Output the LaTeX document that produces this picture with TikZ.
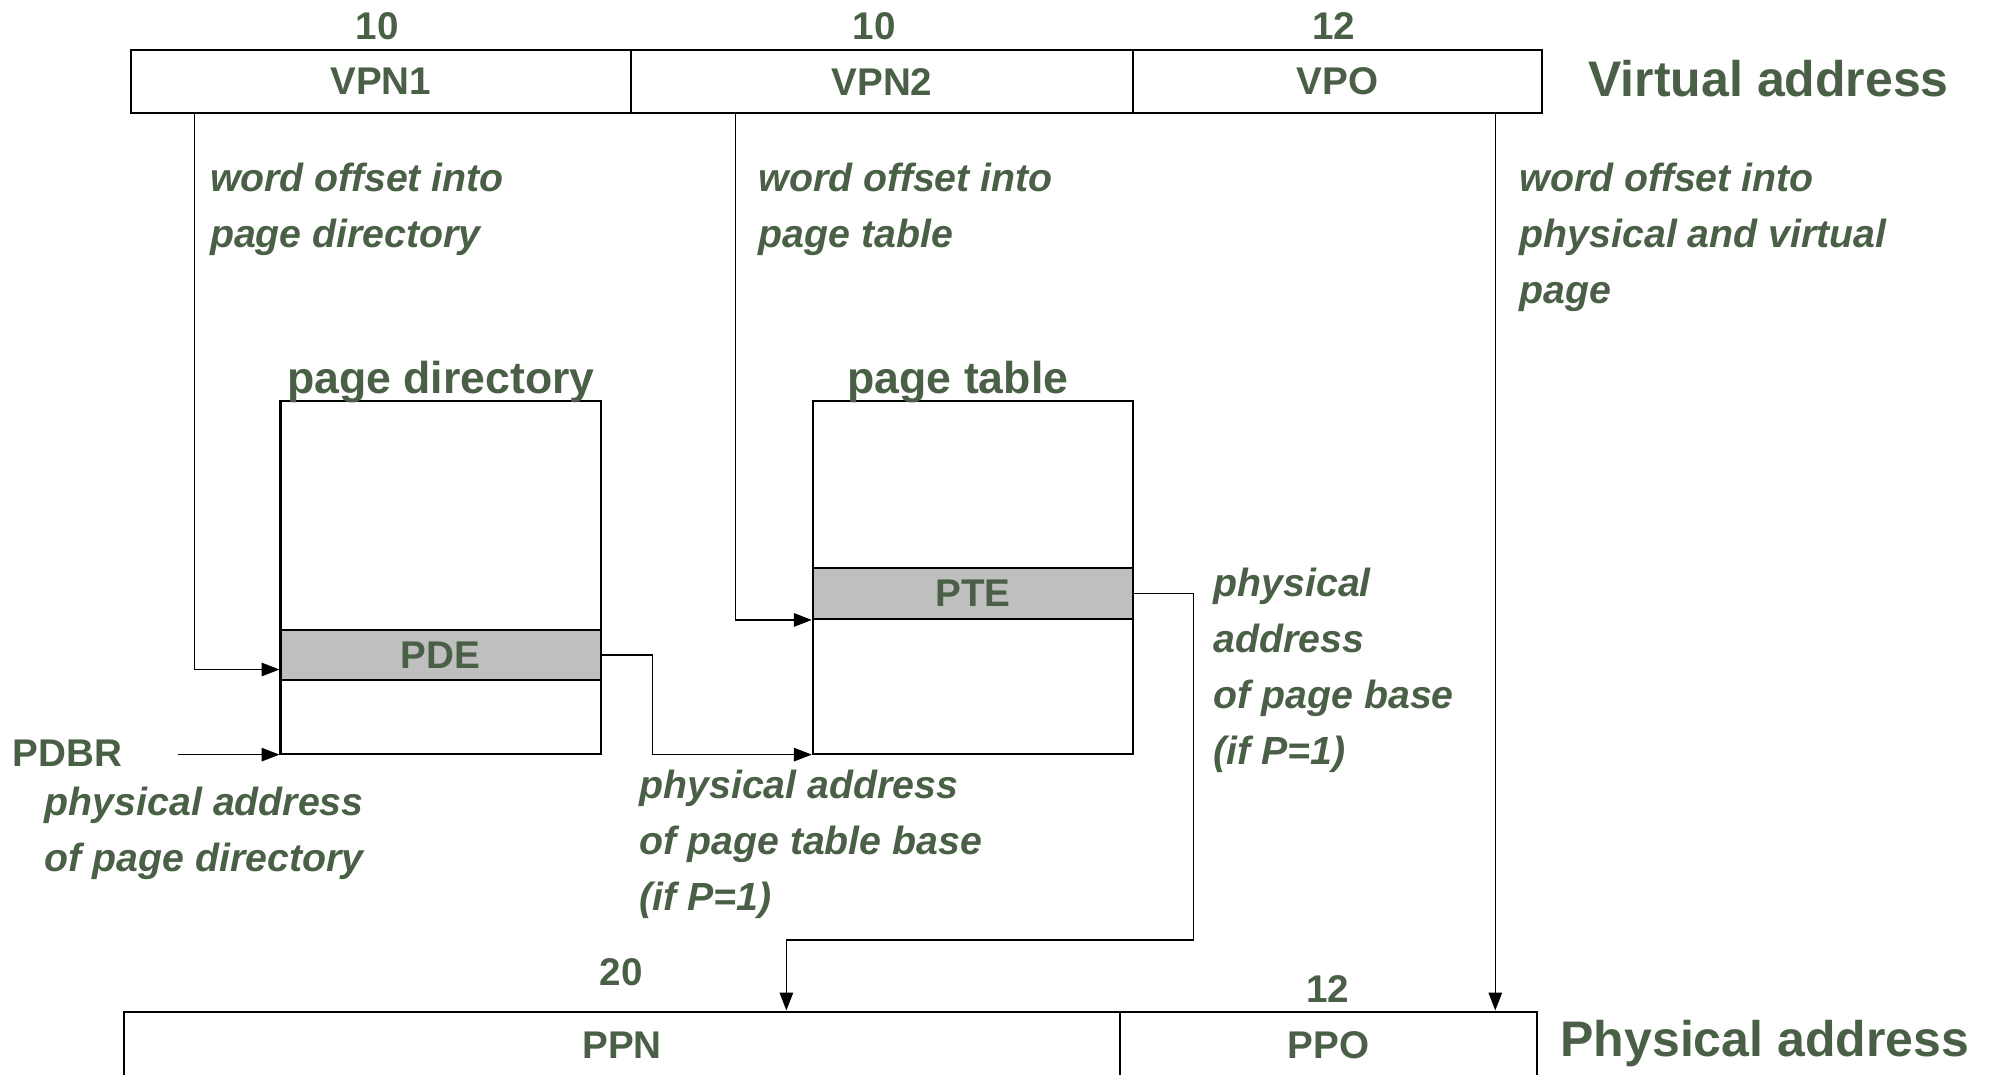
\documentclass[tikz,border=0pt]{standalone}
\usepackage{fontspec}
\setmainfont{Liberation Sans}
\usetikzlibrary{arrows.meta}
\definecolor{labelgreen}{RGB}{74,96,70}
\tikzset{
  fieldbox/.style={draw, line width=0.9pt, anchor=south west, minimum height=1cm, inner sep=0, font=\bfseries\fontsize{17.3}{20}\selectfont, text=labelgreen},
  entrybox/.style={fieldbox, fill=gray!50, minimum width=5.04cm},
  tablebox/.style={draw, line width=0.9pt, anchor=south west, minimum width=5.04cm, minimum height=5.56cm, inner sep=0},
  widthlbl/.style={anchor=base, font=\bfseries\fontsize{17.3}{20}\selectfont, text=labelgreen},
  titlelbl/.style={anchor=base, font=\bfseries\fontsize{20}{24}\selectfont, text=labelgreen},
  addrlbl/.style={anchor=base west, inner sep=0, font=\bfseries\fontsize{22.4}{26}\selectfont, text=labelgreen},
  notelbl/.style={anchor=north west, inner sep=0, align=left, font=\bfseries\itshape\fontsize{17.6}{25}\selectfont, text=labelgreen},
  pointer/.style={line width=0.7pt, -{Triangle[length=8pt,width=6pt]}},
}
\begin{document}
\begin{tikzpicture}[x=0.02cm, y=0.02cm]
\useasboundingbox (0,0) rectangle (1568,846);

\node (vpn1) at (102,756) [fieldbox, minimum width=7.88cm] {VPN1};
\node (vpn2) at (496,756) [fieldbox, minimum width=7.9cm] {VPN2};
\node (vpo) at (891,756) [fieldbox, minimum width=6.44cm] {VPO};
\node (ppn) at (97,-4) [fieldbox, minimum width=15.68cm, minimum height=1.06cm] {PPN};
\node (ppo) at (881,-4) [fieldbox, minimum width=6.56cm, minimum height=1.06cm] {PPO};

\node (pd) at (220,252) [tablebox] {};
\node (pde) at (220,310) [entrybox, minimum height=0.78cm] {PDE};
\node (pt) at (639,252) [tablebox] {};
\node (pte) at (639,358) [entrybox, minimum height=0.8cm] {PTE};

\node (bits1) at (297,815) [widthlbl] {10};
\node (bits2) at (688,815) [widthlbl] {10};
\node (bits3) at (1050,815) [widthlbl] {12};
\node (bits4) at (489,70) [widthlbl] {20};
\node (bits5) at (1045,57) [widthlbl] {12};

\node (vaddr) at (1250,770) [addrlbl] {Virtual address};
\node (paddr) at (1228,14) [addrlbl] {Physical address};
\node (pdtitle) at (347,536) [titlelbl] {page directory};
\node (pttitle) at (754,536) [titlelbl] {page table};
\node (pdbr) at (53,243) [widthlbl] {PDBR};

\node (vpn1note) at (165,718) [notelbl] {word offset into\\page directory};
\node (vpn2note) at (597,718) [notelbl] {word offset into\\page table};
\node (vponote) at (1196,718) [notelbl] {word offset into\\physical and virtual\\page};
\node (ptenote) at (955,399) [notelbl] {physical\\address\\of page base\\(if P=1)};
\node (pdenote) at (503,240) [notelbl] {physical address\\of page table base\\(if P=1)};
\node (pdbrnote) at (35,227) [notelbl] {physical address\\of page directory};

\coordinate (tap1) at (153,756);
\coordinate (tap2) at (579,756);
\coordinate (tap3) at (1177,756);
\coordinate (pdbrtail) at (140,252);
\coordinate (ppnbend) at (619,106);

\draw [pointer] (tap1) |- ([yshift=0.18cm]pde.south west);
\draw [pointer] (tap2) |- (pte.south west);
\draw [pointer] (tap3) -- (tap3 |- ppo.north);
\draw [pointer] (pdbrtail) -- (pd.south west);
\draw [pointer] (pde.east) -- ++(40,0) |- (pt.south west);
\draw [pointer] (pte.east) -- ++(47,0) |- (ppnbend) -- (ppnbend |- ppn.north);
\end{tikzpicture}
\end{document}
